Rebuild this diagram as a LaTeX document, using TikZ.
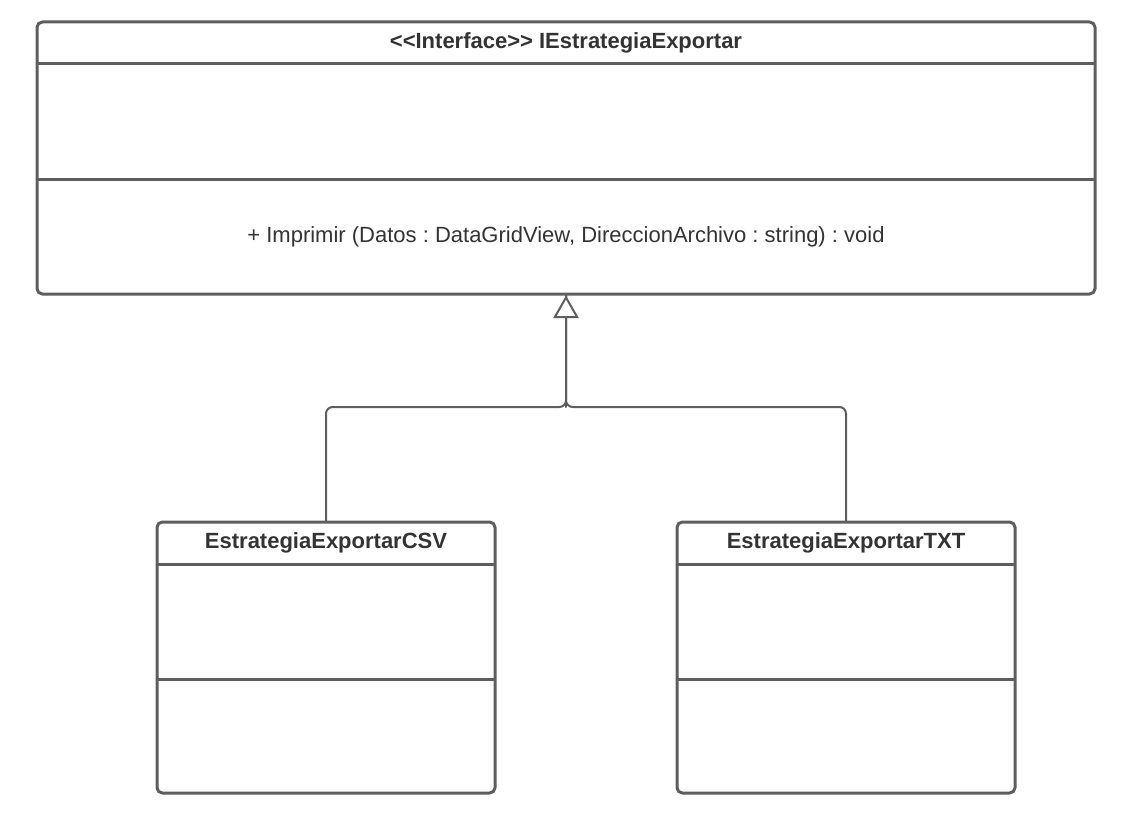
\documentclass[tikz,border=0pt]{standalone}
\usepackage{fontspec}
\setmainfont{Liberation Sans}
\usepackage{xcolor}
\usetikzlibrary{arrows.meta,positioning,calc}
\definecolor{umlline}{HTML}{5E5E5E}
\definecolor{umltext}{HTML}{333333}
\frenchspacing

\begin{document}
\begin{tikzpicture}[line cap=round,line join=round,x=0.75pt,y=-0.75pt,
    classbox/.style={draw=umlline,line width=2.25pt,rounded corners=4pt,inner sep=0pt,outer sep=0pt},
    divider/.style={draw=umlline,line width=2.25pt,line cap=butt},
    classname/.style={text=umltext,font=\fontsize{16.5}{19}\selectfont\bfseries},
    member/.style={text=umltext,font=\fontsize{16.5}{19}\selectfont},
    realize/.style={draw=umlline,line width=1.5pt,rounded corners=5pt}]
    \useasboundingbox (0,0) rectangle (1126,834);
    % interface
    \node [classbox,minimum width=793.5pt,minimum height=204pt] (iface) at (566,158) {};
    \draw [divider] ($(iface.north west)+(0,42)$) -- ($(iface.north east)+(0,42)$);
    \draw [divider] ($(iface.north west)+(0,158)$) -- ($(iface.north east)+(0,158)$);
    \node [classname] (ifacename) at (566,43) {<\kern0pt<Interface>\kern0pt> IEstrategiaExportar};
    \node [member] (imprimir) at (566,237) {+ Imprimir (Datos : DataGridView, DireccionArchivo : string) : void};
    % implementations
    \node [classbox,minimum width=253.5pt,minimum height=203.25pt] (csv) at (326,657.5) {};
    \node [classbox,minimum width=253.5pt,minimum height=203.25pt] (txt) at (846,657.5) {};
    \foreach \c in {csv,txt}{
        \draw [divider] ($(\c.north west)+(0,42)$) -- ($(\c.north east)+(0,42)$);
        \draw [divider] ($(\c.north west)+(0,157)$) -- ($(\c.north east)+(0,157)$);
    }
    \node [classname] (csvname) at (326,543) {EstrategiaExportarCSV};
    \node [classname] (txtname) at (846,543) {EstrategiaExportarTXT};
    % realization
    \coordinate (junc) at (566,407);
    \draw [realize,shorten <=1.1pt] (csv.north) |- (junc) -- (iface.south);
    \draw [realize,shorten <=1.1pt] (txt.north) |- (junc) -- (iface.south);
    \draw [realize,shorten >=1.1pt,-{Triangle[open,fill=white,length=17pt,width=19pt]}] (junc) -- (iface.south);
\end{tikzpicture}
\end{document}
